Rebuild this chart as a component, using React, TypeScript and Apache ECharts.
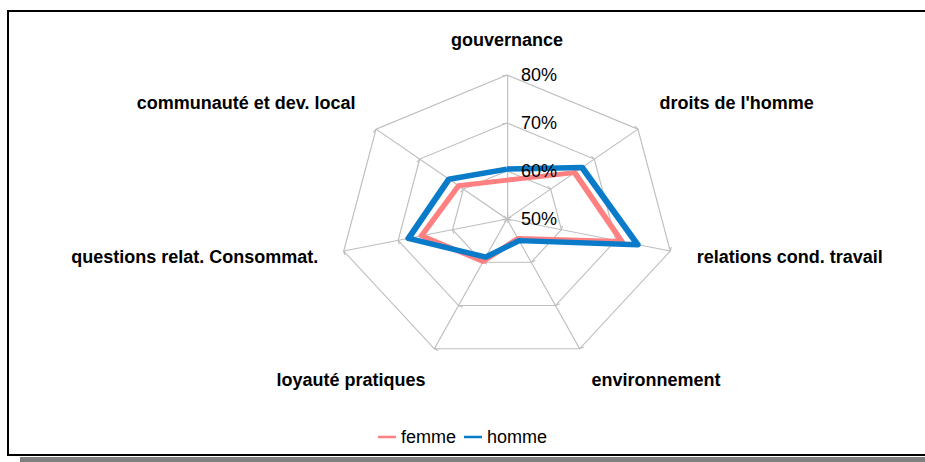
import React, { useEffect, useRef } from 'react';
import * as echarts from 'echarts';

// Categories in ECharts radar order (top, then counter-clockwise)
const categories = [
  'gouvernance',
  'communauté et dev. local',
  'questions relat. Consommat.',
  'loyauté pratiques',
  'environnement',
  'relations cond. travail',
  "droits de l'homme",
];
const femme = [58.1, 61.1, 65.7, 59.8, 54.5, 71.1, 65.5];
const homme = [60.4, 63.3, 68.1, 58.8, 55.0, 74.0, 67.2];
const seriesNames = ['femme', 'homme'];
const axisMin = 50;
const axisMax = 80;
const tickLabels = ['50%', '60%', '70%', '80%'];

// Layout / style (not data)
const W = 925;
const H = 462;
const CX = 507;
const CY = 219;
const R = 144;
const SX = 1.163; // horizontal stretch of the plot (elliptical net chart)
const PINK = '#FF8080';
const BLUE = '#0A7BC9';
const GRID = '#BEBEBE';
const FONT = '"Liberation Sans", Arial, sans-serif';
const nameGaps = [26, 42, 27, 34.7, 34.7, 27, 42];
const namePads = [
  [0, 0, 0, 0],
  [0, 6, 0, 0],
  [0, 22, 0, 0],
  [0, 4, 0, 0],
  [0, 0, 0, 7],
  [0, 0, 0, 23],
  [0, 0, 0, 7],
];

export default function App() {
  const refA = useRef<HTMLDivElement>(null);
  const refB = useRef<HTMLDivElement>(null);

  useEffect(() => {
    const a = echarts.init(refA.current!, null, { renderer: 'svg' });
    const b = echarts.init(refB.current!, null, { renderer: 'svg' });

    a.setOption({
      animation: false,
      radar: {
        center: [CX / SX, CY],
        radius: R,
        startAngle: 90,
        splitNumber: 3,
        shape: 'polygon',
        indicator: categories.map((name) => ({ name, min: axisMin, max: axisMax })),
        axisName: { show: false },
        axisLine: { show: true, lineStyle: { color: GRID, width: 1 } },
        axisTick: { show: true, length: 4, lineStyle: { color: GRID, width: 1 } },
        axisLabel: { show: false },
        splitLine: { show: true, lineStyle: { color: GRID, width: 1 } },
        splitArea: { show: false },
      },
      series: [
        {
          type: 'radar',
          name: seriesNames[0],
          symbol: 'none',
          lineStyle: { color: PINK, width: 5 },
          itemStyle: { color: PINK },
          data: [{ name: seriesNames[0], value: femme }],
        },
        {
          type: 'radar',
          name: seriesNames[1],
          symbol: 'none',
          lineStyle: { color: BLUE, width: 5.5 },
          itemStyle: { color: BLUE },
          data: [{ name: seriesNames[1], value: homme }],
        },
      ],
    });

    b.setOption({
      animation: false,
      legend: {
        left: 'center',
        top: 423,
        icon: 'rect',
        itemWidth: 18,
        itemHeight: 2.5,
        itemGap: 8,
        selectedMode: false,
        textStyle: { fontSize: 18, color: '#000', fontFamily: FONT },
        data: [
          { name: seriesNames[0], itemStyle: { color: PINK, opacity: 1 } },
          { name: seriesNames[1], itemStyle: { color: BLUE, opacity: 1 } },
        ],
      },
      radar: {
        center: [CX, CY],
        radius: R,
        startAngle: 90,
        splitNumber: 3,
        shape: 'polygon',
        indicator: categories.map((name, i) => {
          const ind: any = {
            name,
            min: axisMin,
            max: axisMax,
            nameGap: nameGaps[i],
            nameTextStyle: { padding: namePads[i] },
          };
          if (i === 0) {
            ind.axisLabel = {
              show: true,
              color: '#000',
              fontSize: 18,
              fontFamily: FONT,
              margin: -14,
              align: 'left',
              formatter: (v: number) => tickLabels[Math.round((v - axisMin) / 10)] ?? '',
            };
          }
          return ind;
        }),
        axisName: {
          show: true,
          color: '#000',
          fontSize: 18,
          fontWeight: 'bold',
          fontFamily: FONT,
        },
        axisLine: { show: false },
        axisTick: { show: false },
        axisLabel: { show: false },
        splitLine: { show: false },
        splitArea: { show: false },
      },
      series: [
        { type: 'radar', name: seriesNames[0], itemStyle: { color: PINK }, data: [] },
        { type: 'radar', name: seriesNames[1], itemStyle: { color: BLUE }, data: [] },
      ],
    });

    return () => {
      a.dispose();
      b.dispose();
    };
  }, []);

  return (
    <div
      style={{
        position: 'fixed',
        left: 0,
        top: 0,
        width: W,
        height: H,
        overflow: 'hidden',
        background: '#fff',
      }}
    >
      <div
        style={{
          position: 'absolute',
          left: 7,
          top: 10,
          width: 940,
          height: 442,
          borderTop: '2px solid #000',
          borderLeft: '2px solid #000',
          borderBottom: '2px solid #000',
          background: '#fff',
        }}
      />
      <div
        style={{
          position: 'absolute',
          left: 20,
          top: 457,
          width: 905,
          height: 5,
          background: '#808080',
        }}
      />
      <div
        ref={refA}
        style={{
          position: 'absolute',
          left: 0,
          top: 0,
          width: W / SX,
          height: H,
          transform: `scaleX(${SX})`,
          transformOrigin: '0 0',
        }}
      />
      <div ref={refB} style={{ position: 'absolute', left: 0, top: 0, width: W, height: H }} />
    </div>
  );
}
